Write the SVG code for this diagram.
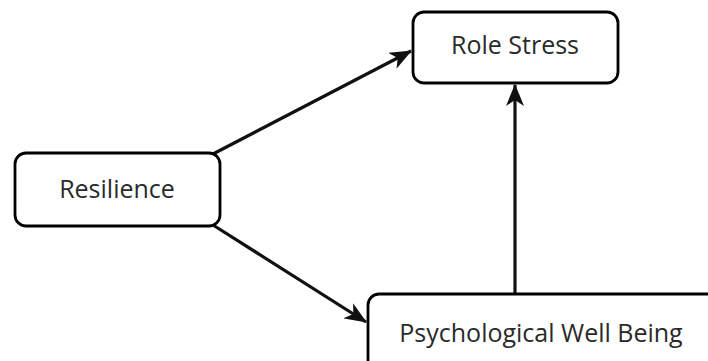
<svg xmlns="http://www.w3.org/2000/svg" width="708" height="361" viewBox="0 0 708 361">
<style>
.box{fill:#fff;stroke:#000;stroke-width:2.8}
.lbl{font-family:"Open Sans","Liberation Sans",sans-serif;font-size:25px;fill:#2a2a2a;text-anchor:middle}
.con{stroke:#111;stroke-width:3.2;fill:none}
</style>
<defs>
<marker id="ah" viewBox="0 0 22 18" refX="21" refY="9" markerWidth="22" markerHeight="18" markerUnits="userSpaceOnUse" orient="auto">
<path d="M0,0 L22,9 L0,18 L6,9 Z" fill="#111"/>
</marker>
</defs>
<g id="connectors">
<line class="con" x1="213" y1="154" x2="411" y2="51" marker-end="url(#ah)"/>
<line class="con" x1="213" y1="225" x2="366" y2="322" marker-end="url(#ah)"/>
<line class="con" x1="515" y1="294" x2="515" y2="85" marker-end="url(#ah)"/>
</g>
<g id="role-stress">
<rect class="box" x="413" y="12" width="205" height="71" rx="11"/>
<text class="lbl" x="515" y="54">Role Stress</text>
</g>
<g id="resilience">
<rect class="box" x="15" y="153" width="205" height="73" rx="11"/>
<text class="lbl" x="117" y="198">Resilience</text>
</g>
<g id="pwb">
<rect class="box" x="368" y="294" width="360" height="90" rx="11"/>
<text class="lbl" x="541" y="342">Psychological Well Being</text>
</g>
</svg>
